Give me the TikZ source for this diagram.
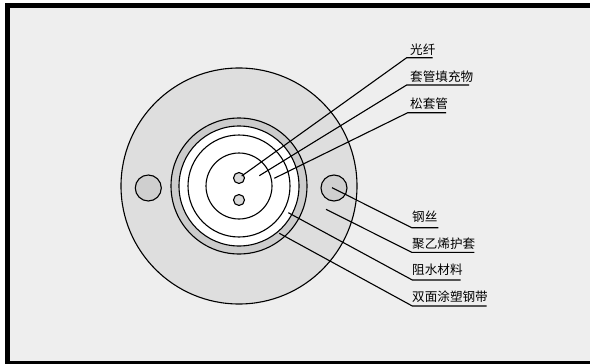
\documentclass[tikz,border=0pt]{standalone}
\usepackage{fontspec}
\newfontfamily\cjk{Noto Sans CJK SC}
\usetikzlibrary{positioning,calc}

\tikzset{
  ring/.style={draw=black, line width=1.1pt, circle, inner sep=0pt, minimum size=#1},
  leader/.style={draw=black, line width=1.1pt},
  partname/.style={anchor=west, inner sep=0pt, font=\cjk\fontsize{12.6}{13}\selectfont, text=black}
}

\begin{document}
\begin{tikzpicture}[x=1pt, y=-1pt]
\useasboundingbox (0,0) rectangle (590,364);
% 背景
\fill[white] (0,0) rectangle (590,364);
\fill[black] (5,3) rectangle (590,364);
\fill[black!6.5] (10,8) rectangle (590,361);

% 护套
\node[ring=236pt, fill=black!13] (sheath) at (239,186) {};
\node[ring=26pt, fill=black!19] (wireleft) at (148.3,188) {};
\node[ring=26pt, fill=black!19] (wireright) at (334,188) {};
% 钢带
\node[ring=136pt, fill=black!20] (tape) at (239,186) {};
\node[ring=120pt, fill=white] (block) at (239,186) {};
% 松套管
\node[ring=102pt, fill=white] (tube) at (239,186) {};
\node[ring=66pt, fill=white] (filler) at (239,186) {};
% 光纤
\node[ring=11pt, fill=black!15] (fiberup) at (239,178) {};
\node[ring=11pt, fill=black!15] (fiberdown) at (239,200) {};

% 上方标注
\node[partname] (fiber) at (410,49.5) {光纤};
\node[partname] (gel) at (410,77) {套管填充物};
\node[partname] (loose) at (410,104) {松套管};
\draw[leader] (241.7,176) -- (406.7,57.7) -- (432.7,57.7);
\draw[leader] (259.3,175.7) -- (406.7,85) -- (469,85);
\draw[leader] (274.3,178.3) -- (407.7,112.7) -- (446,112.7);

% 下方标注
\node[partname] (wire) at (412,217) {钢丝};
\node[partname] (jacket) at (412,243.5) {聚乙烯护套};
\node[partname] (water) at (412,270) {阻水材料};
\node[partname] (steel) at (412,297) {双面涂塑钢带};
\draw[leader] (332,187.7) -- (411.7,227.7) -- (438.3,227.7);
\draw[leader] (326,209.3) -- (411.7,252.3) -- (474.3,252.3);
\draw[leader] (288.3,212.7) -- (412.3,280) -- (460.7,280);
\draw[leader] (279.3,233.3) -- (412.3,306) -- (486.7,306);
\end{tikzpicture}
\end{document}
